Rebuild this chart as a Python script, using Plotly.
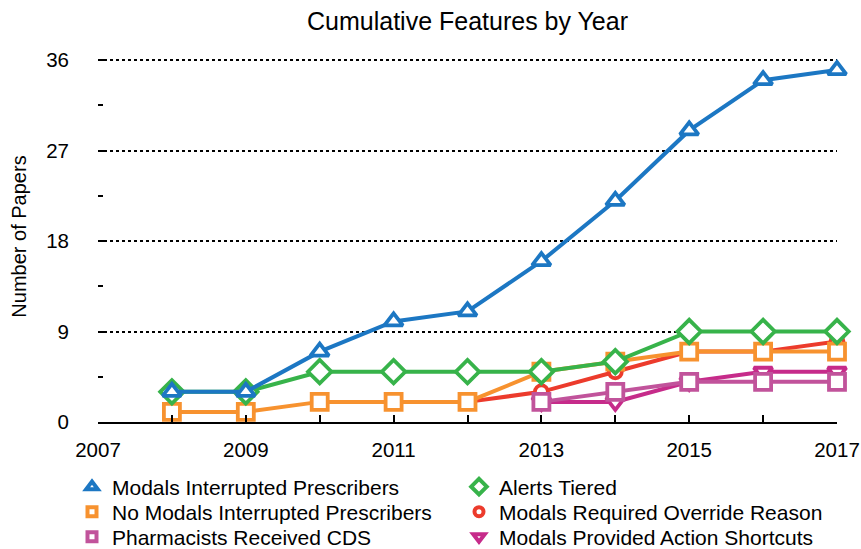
import plotly.graph_objects as go

years = list(range(2008, 2018))

modals_interrupted = [3, 3, 7, 10, 11, 16, 22, 29, 34, 35]
alerts_tiered = [3, 3, 5, 5, 5, 5, 6, 9, 9, 9]
no_modals_interrupted = [1, 1, 2, 2, 2, 5, 6, 7, 7, 7]
modals_override_years = [2012, 2013, 2014, 2015, 2016, 2017]
modals_override = [2, 3, 5, 7, 7, 8]
pharmacists_years = [2013, 2014, 2015, 2016, 2017]
pharmacists_cds = [2, 3, 4, 4, 4]
shortcuts_years = [2013, 2014, 2015, 2016, 2017]
action_shortcuts = [2, 2, 4, 5, 5]

x_tick_vals = list(range(2007, 2018))
x_tick_text = [str(y) if (y - 2007) % 2 == 0 else "" for y in x_tick_vals]
y_major = [0, 9, 18, 27, 36]
y_minor = [4.5, 13.5, 22.5, 31.5]

FONT = "Liberation Sans, Arial, Helvetica, sans-serif"

W, H = 861, 549
ML, MR, MT, MB = 98, 24, 51, 127
PW, PH = W - ML - MR, H - MT - MB

series = [
    # name, x, y, color, symbol, size, legend row
    ("Modals Provided Action Shortcuts", shortcuts_years, action_shortcuts, "#c62b8a", "triangle-down", 16, "legend3"),
    ("Modals Required Override Reason", modals_override_years, modals_override, "#ec3b2c", "circle", 13, "legend2"),
    ("Pharmacists Received CDS", pharmacists_years, pharmacists_cds, "#c1539b", "square", 16, "legend3"),
    ("No Modals Interrupted Prescribers", years, no_modals_interrupted, "#f7922f", "square", 16, "legend2"),
    ("Alerts Tiered", years, alerts_tiered, "#37b34a", "diamond", 18, "legend"),
    ("Modals Interrupted Prescribers", years, modals_interrupted, "#1c77c3", "triangle-up", 16, "legend"),
]
legend_sizes = {"triangle-up": 10, "triangle-down": 10, "square": 9, "circle": 9, "diamond": 12}

fig = go.Figure()
for name, xs, ys, color, sym, size, leg in series:
    fig.add_trace(go.Scatter(
        x=xs, y=ys, mode="lines+markers", name=name, showlegend=False,
        line=dict(color=color, width=4),
        marker=dict(symbol=sym, size=size, color="white", line=dict(color=color, width=3.8)),
        cliponaxis=False,
    ))

legend_order = [
    "Modals Interrupted Prescribers", "Alerts Tiered",
    "No Modals Interrupted Prescribers", "Modals Required Override Reason",
    "Pharmacists Received CDS", "Modals Provided Action Shortcuts",
]
lookup = {s[0]: s for s in series}
for name in legend_order:
    _, xs, ys, color, sym, size, leg = lookup[name]
    fig.add_trace(go.Scatter(
        x=[None], y=[None], mode="markers", name=name, showlegend=True, legend=leg,
        marker=dict(symbol=sym, size=legend_sizes[sym], color="white",
                    line=dict(color=color, width=4)),
    ))

legend_common = dict(orientation="h", x=(72 - ML) / PW, xanchor="left", xref="paper",
                     yanchor="middle", yref="paper",
                     entrywidth=342, entrywidthmode="pixels", traceorder="normal",
                     font=dict(size=21, family=FONT), itemsizing="trace",
                     bgcolor="rgba(0,0,0,0)")

def row_y(py):
    return (H - MB - py) / PH

fig.update_layout(
    width=W, height=H,
    margin=dict(l=ML, r=MR, t=MT, b=MB, autoexpand=False),
    paper_bgcolor="white", plot_bgcolor="white",
    font=dict(family=FONT, size=20, color="black"),
    title=dict(text="Cumulative Features by Year", x=0.5, xref="paper", xanchor="center",
               y=1 - 21 / H, yanchor="middle", font=dict(size=25, family=FONT)),
    showlegend=True,
    legend=dict(legend_common, y=row_y(487)),
    legend2=dict(legend_common, y=row_y(512)),
    legend3=dict(legend_common, y=row_y(537)),
)

fig.update_xaxes(
    range=[2007, 2017], tickvals=x_tick_vals, ticktext=x_tick_text,
    ticks="inside", ticklen=7, tickwidth=2, tickcolor="black",
    showline=True, linecolor="black", linewidth=2, showgrid=False, zeroline=False,
    tickfont=dict(size=20.5), ticklabelstandoff=8, automargin=False,
)
fig.update_yaxes(
    range=[0, 36.9], tickvals=y_major,
    ticks="inside", ticklen=9, tickwidth=2, tickcolor="black",
    minor=dict(tickvals=y_minor, ticks="inside", ticklen=5, tickwidth=2,
               tickcolor="black", showgrid=False),
    showline=False, zeroline=False,
    showgrid=True, gridcolor="black", griddash="dot", gridwidth=1.5,
    title=dict(text="Number of Papers", font=dict(size=20), standoff=14),
    tickfont=dict(size=20.5), ticklabelstandoff=28, automargin=False,
)

fig.write_html("out.html", post_script="document.body.style.margin='0';",
               config={"displayModeBar": False})
